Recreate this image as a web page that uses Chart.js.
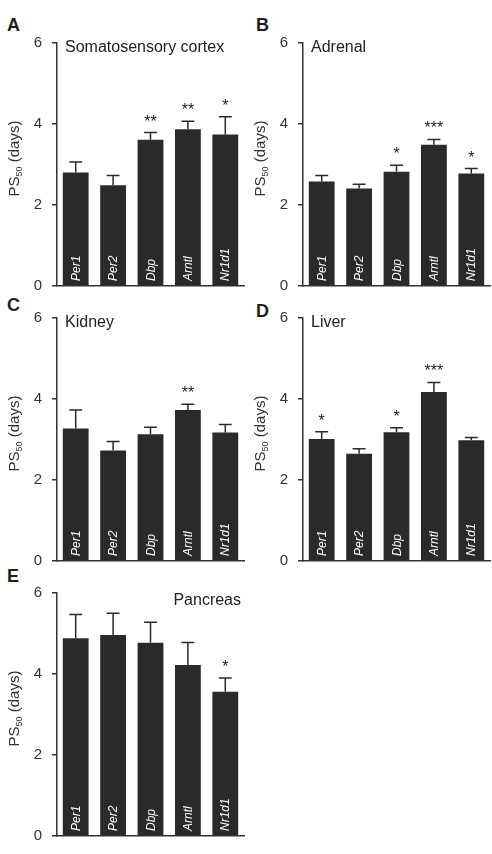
<!DOCTYPE html>
<html>
<head>
<meta charset="utf-8">
<script src="https://cdn.jsdelivr.net/npm/chart.js@4.4.1/dist/chart.umd.min.js"></script>
<style>
  html, body { margin: 0; padding: 0; background: #fff; }
  #wrap { position: relative; width: 492px; height: 854px; overflow: hidden; }
  canvas { position: absolute; }
  .letra { position: absolute; font: bold 18px "Liberation Sans", Arial, sans-serif; color: #1e1e1e; }
</style>
</head>
<body>
<div id="wrap">
  <div class="letra" style="left:7px; top:15px;">A</div>
  <div class="letra" style="left:256px; top:15px;">B</div>
  <div class="letra" style="left:7px; top:295px;">C</div>
  <div class="letra" style="left:256px; top:301px;">D</div>
  <div class="letra" style="left:7px; top:566px;">E</div>
</div>
<script>
// genes (categorias)
const genes = ['Per1', 'Per2', 'Dbp', 'Arntl', 'Nr1d1'];
// PS50 medio (dias) por tejido
const corteza = [2.80, 2.49, 3.61, 3.87, 3.74];
const cortezaErr = [0.26, 0.24, 0.18, 0.20, 0.44];
const cortezaSig = ['', '', '**', '**', '*'];
const adrenal = [2.58, 2.41, 2.82, 3.49, 2.78];
const adrenalErr = [0.15, 0.10, 0.16, 0.13, 0.12];
const adrenalSig = ['', '', '*', '***', '*'];
const rinon = [3.27, 2.73, 3.13, 3.73, 3.17];
const rinonErr = [0.46, 0.22, 0.17, 0.14, 0.20];
const rinonSig = ['', '', '', '**', ''];
const higado = [3.01, 2.65, 3.18, 4.17, 2.98];
const higadoErr = [0.18, 0.12, 0.11, 0.24, 0.07];
const higadoSig = ['*', '', '*', '***', ''];
const pancreas = [4.88, 4.96, 4.77, 4.22, 3.56];
const pancreasErr = [0.59, 0.54, 0.51, 0.56, 0.34];
const pancreasSig = ['', '', '', '', '*'];
// eje y
const ticksY = [0, 2, 4, 6];

const FUENTE = '"Liberation Sans", Arial, sans-serif';
const OSCURO = '#2a2a2d';
Chart.defaults.font.family = FUENTE;

function panel(left, top, titulo, medias, errores, sig, tituloDerecha) {
    const c = document.createElement('canvas');
    c.width = 246;
    c.height = 305;
    c.style.left = left + 'px';
    c.style.top = top + 'px';
    document.getElementById('wrap').appendChild(c);

    //barras de error, asteriscos y nombres dentro de las barras
    const extras = {
        id: 'extras',
        afterDatasetsDraw(chart) {
            const ctx = chart.ctx;
            const y = chart.scales.y;
            const area = chart.chartArea;
            const barras = chart.getDatasetMeta(0).data;
            ctx.save();
            barras.forEach((b, i) => {
                const arriba = y.getPixelForValue(medias[i] + errores[i]);
                const cap = b.width * 0.5;
                ctx.strokeStyle = OSCURO;
                ctx.lineWidth = 1.5;
                ctx.beginPath();
                ctx.moveTo(b.x, b.y);
                ctx.lineTo(b.x, arriba);
                ctx.moveTo(b.x - cap / 2, arriba);
                ctx.lineTo(b.x + cap / 2, arriba);
                ctx.stroke();
                if (sig[i]) {
                    ctx.fillStyle = '#222';
                    ctx.font = '16px ' + FUENTE;
                    ctx.textAlign = 'center';
                    ctx.textBaseline = 'alphabetic';
                    ctx.fillText(sig[i], b.x, arriba - 6);
                }
                ctx.save();
                ctx.translate(b.x + 4, area.bottom - 5);
                ctx.rotate(-Math.PI / 2);
                ctx.fillStyle = '#fff';
                ctx.font = 'italic 12px ' + FUENTE;
                ctx.textAlign = 'left';
                ctx.textBaseline = 'alphabetic';
                ctx.fillText(genes[i], 0, 0);
                ctx.restore();
            });
            ctx.restore();
        },
        afterDraw(chart) {
            const ctx = chart.ctx;
            const area = chart.chartArea;
            ctx.save();
            //titulo del tejido
            ctx.fillStyle = '#222';
            ctx.font = '16px ' + FUENTE;
            ctx.textBaseline = 'alphabetic';
            if (tituloDerecha) {
                ctx.textAlign = 'right';
                ctx.fillText(titulo, area.right - 3, area.top + 12);
            } else {
                ctx.textAlign = 'left';
                ctx.fillText(titulo, area.left + 8, area.top + 9);
            }
            //titulo del eje y: PS50 (days)
            ctx.translate(19, (area.top + area.bottom) / 2 - 6);
            ctx.rotate(-Math.PI / 2);
            ctx.textAlign = 'left';
            ctx.font = '15px ' + FUENTE;
            const w1 = ctx.measureText('PS').width;
            const w3 = ctx.measureText(' (days)').width;
            ctx.font = '9px ' + FUENTE;
            const w2 = ctx.measureText('50').width;
            let x = -(w1 + w2 + w3) / 2;
            ctx.fillStyle = '#333';
            ctx.font = '15px ' + FUENTE;
            ctx.fillText('PS', x, 0);
            x += w1;
            ctx.font = '9px ' + FUENTE;
            ctx.fillText('50', x, 3);
            x += w2;
            ctx.font = '15px ' + FUENTE;
            ctx.fillText(' (days)', x, 0);
            ctx.restore();
        }
    };

    new Chart(c, {
        type: 'bar',
        data: {
            labels: genes,
            datasets: [{
                data: medias,
                backgroundColor: OSCURO,
                borderWidth: 0,
                categoryPercentage: 1,
                barPercentage: 0.69
            }]
        },
        options: {
            responsive: false,
            animation: false,
            events: [],
            layout: { padding: { top: 43, right: 2, bottom: 5, left: 0 } },
            plugins: { legend: { display: false }, tooltip: { enabled: false }, title: { display: false } },
            scales: {
                x: {
                    ticks: { display: false },
                    grid: { display: false },
                    border: { display: true, color: '#333', width: 1.5 },
                    afterFit(s) { s.height = 0; }
                },
                y: {
                    min: ticksY[0],
                    max: ticksY[ticksY.length - 1],
                    afterBuildTicks(s) { s.ticks = ticksY.map(v => ({ value: v })); },
                    ticks: { color: '#333', font: { size: 15 }, padding: 10 },
                    grid: { display: true, drawOnChartArea: false, drawTicks: true, tickLength: 5, color: '#333', lineWidth: 1.5 },
                    border: { display: true, color: '#333', width: 1.5 },
                    afterFit(s) { s.width = 57; }
                }
            }
        },
        plugins: [extras]
    });
}

panel(0, 0, 'Somatosensory cortex', corteza, cortezaErr, cortezaSig, false);
panel(246, 0, 'Adrenal', adrenal, adrenalErr, adrenalSig, false);
panel(0, 275, 'Kidney', rinon, rinonErr, rinonSig, false);
panel(246, 275, 'Liver', higado, higadoErr, higadoSig, false);
panel(0, 550, 'Pancreas', pancreas, pancreasErr, pancreasSig, true);
</script>
</body>
</html>
